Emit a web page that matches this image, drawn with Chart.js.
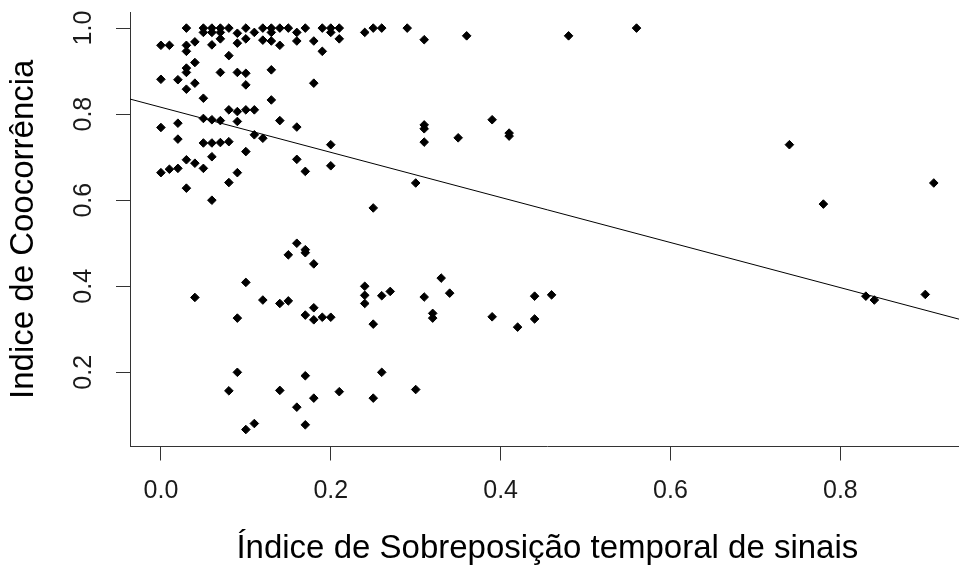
<!DOCTYPE html>
<html>
<head>
<meta charset="utf-8">
<script src="https://cdn.jsdelivr.net/npm/chart.js@4.4.1/dist/chart.umd.min.js"></script>
<style>
  html, body { margin: 0; padding: 0; background: #fff; overflow: hidden; }
  #wrap { width: 970px; height: 565px; }
</style>
</head>
<body>
<div id="wrap"><canvas id="plot" width="970" height="565"></canvas></div>
<script>
// temporal overlap index (x) vs co-occurrence index (y), one entry per pair
const overlap = [
  0.00, 0.01, 0.03, 0.03, 0.03, 0.04, 0.05, 0.05, 0.06, 0.06, 0.06, 0.07, 0.07, 0.07,
  0.08, 0.08, 0.09, 0.09, 0.10, 0.10, 0.11, 0.12, 0.12, 0.13, 0.13, 0.13, 0.14, 0.14,
  0.15, 0.16, 0.16, 0.17, 0.18, 0.19, 0.19, 0.20, 0.20, 0.21, 0.21,
  0.24, 0.25, 0.26, 0.29, 0.31, 0.36, 0.48, 0.56,
  0.04, 0.03, 0.03, 0.07, 0.09, 0.10, 0.10, 0.13, 0.18, 0.00, 0.02, 0.03, 0.04,
  0.05, 0.13, 0.08, 0.09, 0.10, 0.11,
  0.05, 0.06, 0.07, 0.09, 0.14, 0.16, 0.00, 0.02, 0.02, 0.05, 0.06, 0.07, 0.08,
  0.11, 0.12, 0.10, 0.20, 0.06,
  0.31, 0.31, 0.31, 0.35, 0.39, 0.41, 0.41, 0.74,
  0.16, 0.17, 0.20, 0.03, 0.04, 0.05, 0.00, 0.01, 0.02, 0.09, 0.08, 0.03, 0.06,
  0.30, 0.25, 0.78, 0.91,
  0.16, 0.17, 0.17, 0.15, 0.18, 0.10, 0.04, 0.12, 0.14, 0.15, 0.18, 0.17, 0.18,
  0.19, 0.20, 0.09, 0.24, 0.24, 0.24, 0.26, 0.27, 0.25, 0.31, 0.32, 0.32, 0.33,
  0.34, 0.39, 0.42, 0.44, 0.44, 0.46, 0.83, 0.84, 0.90,
  0.09, 0.08, 0.14, 0.17, 0.21, 0.18, 0.16, 0.26, 0.25, 0.30, 0.11, 0.10, 0.17
];
const cooccurrence = [
  0.960, 0.960, 1.000, 0.960, 0.946, 0.968, 1.000, 0.990, 1.000, 0.990, 0.961, 1.000, 0.990, 0.975,
  1.000, 0.936, 0.988, 0.965, 1.000, 0.975, 0.990, 1.000, 0.972, 1.000, 0.990, 0.970, 1.000, 0.960,
  1.000, 0.990, 0.970, 1.000, 0.970, 1.000, 0.946, 1.000, 0.990, 1.000, 0.975,
  0.990, 1.000, 1.000, 1.000, 0.973, 0.982, 0.982, 1.000,
  0.920, 0.907, 0.897, 0.897, 0.897, 0.895, 0.868, 0.903, 0.872, 0.881, 0.880, 0.858, 0.872,
  0.837, 0.833, 0.810, 0.806, 0.810, 0.810,
  0.790, 0.787, 0.785, 0.783, 0.785, 0.770, 0.769, 0.779, 0.742, 0.733, 0.733, 0.734, 0.736,
  0.752, 0.744, 0.713, 0.729, 0.701,
  0.775, 0.766, 0.735, 0.745, 0.787, 0.756, 0.749, 0.729,
  0.695, 0.667, 0.680, 0.694, 0.686, 0.674, 0.664, 0.672, 0.674, 0.664, 0.641, 0.628, 0.600,
  0.640, 0.582, 0.591, 0.640,
  0.500, 0.485, 0.478, 0.473, 0.452, 0.409, 0.374, 0.368, 0.360, 0.366, 0.350, 0.333, 0.322,
  0.328, 0.328, 0.326, 0.400, 0.379, 0.360, 0.378, 0.388, 0.312, 0.375, 0.337, 0.326, 0.419,
  0.384, 0.329, 0.305, 0.324, 0.377, 0.380, 0.377, 0.368, 0.381,
  0.200, 0.157, 0.158, 0.192, 0.155, 0.140, 0.119, 0.200, 0.140, 0.160, 0.081, 0.067, 0.078
];

// least-squares line y = a + b*x
const fitIntercept = 0.816;
const fitSlope = -0.524;

const xTicks = [0.0, 0.2, 0.4, 0.6, 0.8];
const yTicks = [0.2, 0.4, 0.6, 0.8, 1.0];

// plot limits: data range widened by 4% on each side
const xLim = [-0.0364, 0.9464];
const yLim = [0.0276, 1.0374];

const ink = '#1a1a1a';
const sans = '"Liberation Sans", Arial, sans-serif';

const points = overlap.map((x, i) => ({ x, y: cooccurrence[i] }));
const fitLine = xLim.map(x => ({ x, y: fitIntercept + fitSlope * x }));

new Chart(document.getElementById('plot'), {
  data: {
    datasets: [
      {
        type: 'scatter',
        data: points,
        pointStyle: 'rectRot',
        pointRadius: 4.3,
        borderWidth: 1,
        backgroundColor: '#000',
        borderColor: '#000'
      },
      {
        type: 'line',
        data: fitLine,
        borderColor: '#000',
        borderWidth: 1,
        pointRadius: 0,
        fill: false
      }
    ]
  },
  options: {
    responsive: false,
    animation: false,
    devicePixelRatio: 1,
    layout: { padding: { top: 12, right: 0, bottom: 0, left: 0 } },
    plugins: { legend: { display: false }, tooltip: { enabled: false } },
    scales: {
      x: {
        type: 'linear',
        min: xLim[0],
        max: xLim[1],
        afterBuildTicks: s => { s.ticks = xTicks.map(v => ({ value: v })); },
        afterFit: s => { s.height = 118.5; s.paddingLeft = 0; s.paddingRight = 0; },
        grid: { display: true, drawOnChartArea: false, drawTicks: true, tickLength: 14, color: '#333', lineWidth: 1 },
        border: { display: true, color: '#333', width: 1 },
        ticks: {
          callback: v => v.toFixed(1),
          font: { family: sans, size: 25 },
          color: ink,
          padding: 16,
          maxRotation: 0,
          autoSkip: false
        },
        title: {
          display: true,
          text: 'Índice de Sobreposição temporal de sinais',
          font: { family: sans, size: 33, lineHeight: 1 },
          color: '#000',
          padding: { top: 0, bottom: 0 }
        }
      },
      y: {
        type: 'linear',
        min: yLim[0],
        max: yLim[1],
        afterBuildTicks: s => { s.ticks = yTicks.map(v => ({ value: v })); },
        afterFit: s => { s.width = 130; s.paddingTop = 0; s.paddingBottom = 0; },
        grid: { display: true, drawOnChartArea: false, drawTicks: true, tickLength: 14, color: '#333', lineWidth: 1 },
        border: { display: true, color: '#333', width: 1 },
        ticks: {
          callback: v => v.toFixed(1),
          font: { family: sans, size: 25 },
          color: ink,
          padding: 15,
          minRotation: 90,
          maxRotation: 90,
          crossAlign: 'center',
          autoSkip: false
        },
        title: {
          display: true,
          text: 'Indice de Coocorrência',
          font: { family: sans, size: 33, lineHeight: 1 },
          color: '#000',
          padding: { top: 7, bottom: 0 }
        }
      }
    }
  }
});
</script>
</body>
</html>
